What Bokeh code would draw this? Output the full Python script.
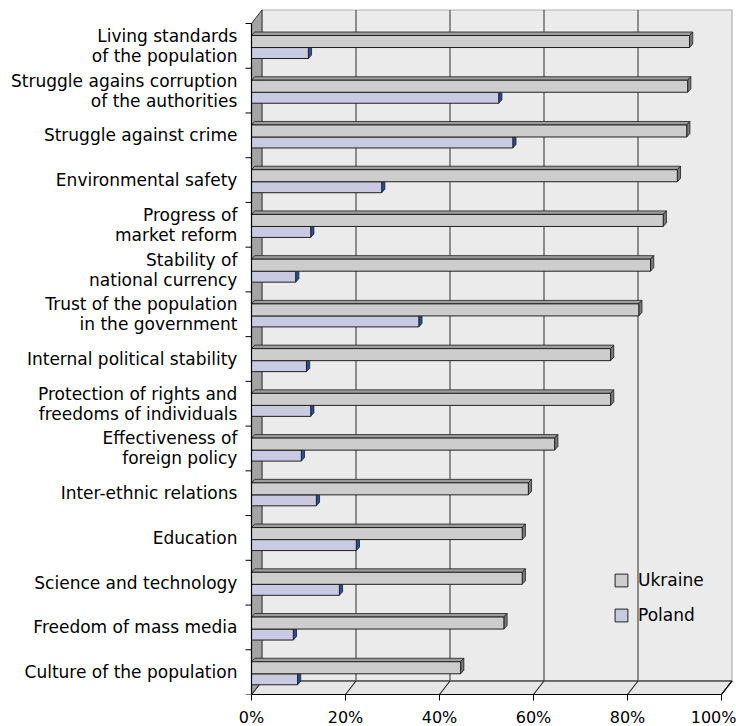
from bokeh.plotting import figure
from bokeh.models import (Range1d, LinearAxis, FixedTicker, PrintfTickFormatter,
                          Legend, LegendItem, ColumnDataSource)
from bokeh.core.properties import value
from bokeh.embed import file_html
from bokeh.resources import INLINE

# ---------------- data ----------------
categories = [
    "Living standards\nof the population",
    "Struggle agains corruption\nof the authorities",
    "Struggle against crime",
    "Environmental safety",
    "Progress of\nmarket reform",
    "Stability of\nnational currency",
    "Trust of the population\nin the government",
    "Internal political stability",
    "Protection of rights and\nfreedoms of individuals",
    "Effectiveness of\nforeign policy",
    "Inter-ethnic relations",
    "Education",
    "Science and technology",
    "Freedom of mass media",
    "Culture of the population",
]
ukraine = [93.2, 92.8, 92.6, 90.6, 87.6, 84.9, 82.4, 76.4, 76.4, 64.5, 58.9, 57.6, 57.6, 53.7, 44.5]
poland = [12.1, 52.6, 55.6, 27.7, 12.6, 9.4, 35.6, 11.7, 12.6, 10.6, 13.8, 22.3, 18.7, 8.9, 9.8]
x_ticks = [0, 20, 40, 60, 80, 100]
series = ["Ukraine", "Poland"]

# ---------------- geometry / style ----------------
FW, FH = 736, 694
PX_X = 4.7           # px per percent
X0_PX = 251          # px position of 0%
n = len(categories)
PX_Y = (FH - 23) / n  # px per category slot
x_start = -X0_PX / PX_X
x_end = x_start + FW / PX_X
y_end = FH / PX_Y

DX = 10.5 / PX_X     # wall depth
DY = 13.5 / PX_Y
BDX = 3.2 / PX_X     # bar depth
BDY = 3.5 / PX_Y

U_TOP, U_BOT, P_BOT = 0.268, 0.537, 0.7825

FONT = "DejaVu Sans"

p = figure(frame_width=FW, frame_height=FH,
           x_range=Range1d(x_start, x_end), y_range=Range1d(0, y_end),
           x_axis_type=None, y_axis_type=None,
           toolbar_location=None, output_backend="svg",
           min_border=0, outline_line_color=None,
           background_fill_color="white", border_fill_color="white")

# back wall
p.patches(xs=[[DX, 100 + DX, 100 + DX, DX]], ys=[[DY, DY, n + DY, n + DY]],
          fill_color="#ebebeb", line_color="#b0b0b0", line_width=1.2)
# floor
p.patches(xs=[[0, 100, 100 + DX, DX]], ys=[[0, 0, DY, DY]],
          fill_color="#e6e6e6", line_color="black", line_width=1.2)
# left wall
p.patches(xs=[[0, DX, DX, 0]], ys=[[0, DY, n + DY, n]],
          fill_color="#a4a4a4", line_color="#303030", line_width=1.0)

# gridlines on back wall and floor
inner = x_ticks[1:-1]
p.segment(x0=[t + DX for t in inner], y0=[DY] * len(inner),
          x1=[t + DX for t in inner], y1=[n + DY] * len(inner),
          line_color="#5a5a5a", line_width=1.3)
p.segment(x0=inner, y0=[0] * len(inner), x1=[t + DX for t in inner], y1=[DY] * len(inner),
          line_color="#202020", line_width=1.1)

# ---------------- bars ----------------
def faces(vals, top_off, bot_off):
    top_x, top_y, end_x, end_y = [], [], [], []
    for i, v in enumerate(vals):
        yt = n - i - top_off
        yb = n - i - bot_off
        top_x.append([0, v, v + BDX, BDX])
        top_y.append([yt, yt, yt + BDY, yt + BDY])
        end_x.append([v, v, v + BDX, v + BDX])
        end_y.append([yb, yt, yt + BDY, yb + BDY])
    return top_x, top_y, end_x, end_y

ys_u = [n - i - (U_TOP + U_BOT) / 2 for i in range(n)]
ys_p = [n - i - (U_BOT + P_BOT) / 2 for i in range(n)]

# Poland (lower bar)
tx, ty, ex, ey = faces(poland, U_BOT, P_BOT)
p.patches(xs=tx, ys=ty, fill_color="#a4a4c4", line_color="#202020", line_width=0.8)
p.patches(xs=ex, ys=ey, fill_color="#22509e", line_color="#202020", line_width=0.8)
src_p = ColumnDataSource(dict(y=ys_p, right=poland))
r_p = p.hbar(y="y", left=0, right="right", height=P_BOT - U_BOT, source=src_p,
             fill_color="#c9c9e1", line_color="#202020", line_width=1.0)

# Ukraine (upper bar)
tx, ty, ex, ey = faces(ukraine, U_TOP, U_BOT)
p.patches(xs=tx, ys=ty, fill_color="#9c9c9c", line_color="#202020", line_width=0.8)
p.patches(xs=ex, ys=ey, fill_color="#7a7a7a", line_color="#202020", line_width=0.8)
src_u = ColumnDataSource(dict(y=ys_u, right=ukraine))
r_u = p.hbar(y="y", left=0, right="right", height=U_BOT - U_TOP, source=src_u,
             fill_color="#cdcdcd", line_color="#202020", line_width=1.0)

# right floor corner
p.segment(x0=[100], y0=[0], x1=[100 + DX], y1=[DY], line_color="black", line_width=1.2)

# left (category) axis line and ticks
p.segment(x0=[0], y0=[0], x1=[0], y1=[n], line_color="black", line_width=1.2)
tick_len = 6 / PX_X
p.segment(x0=[-tick_len] * (n + 1), y0=list(range(n + 1)),
          x1=[0] * (n + 1), y1=list(range(n + 1)), line_color="black", line_width=1.0)

# category labels
p.text(x=[-3] * n, y=[n - i - 0.5 for i in range(n)], text=categories,
       text_align="right", text_baseline="middle",
       text_font=value(FONT), text_font_size="17px", text_line_height=1.0,
       text_color="black")

# bottom value axis
ax = LinearAxis(bounds=(0, 100), ticker=FixedTicker(ticks=x_ticks),
                formatter=PrintfTickFormatter(format="%d%%"),
                major_tick_out=6, major_tick_in=0, minor_tick_out=0, minor_tick_in=0,
                axis_line_color="black", axis_line_width=1.2,
                major_tick_line_color="black",
                major_label_text_font=FONT, major_label_text_font_size="16px",
                major_label_standoff=7, major_label_text_color="black")
p.add_layout(ax, "below")

# legend
legend = Legend(items=[LegendItem(label=series[0], renderers=[r_u]),
                       LegendItem(label=series[1], renderers=[r_p])],
                location=(613, 69), glyph_width=16, glyph_height=16,
                label_height=20, spacing=15, padding=0, margin=0,
                label_standoff=9, background_fill_alpha=0, border_line_color=None,
                label_text_font=FONT, label_text_font_size="17px",
                label_text_color="black")
p.add_layout(legend)

open("out.html", "w").write(file_html(p, INLINE))
